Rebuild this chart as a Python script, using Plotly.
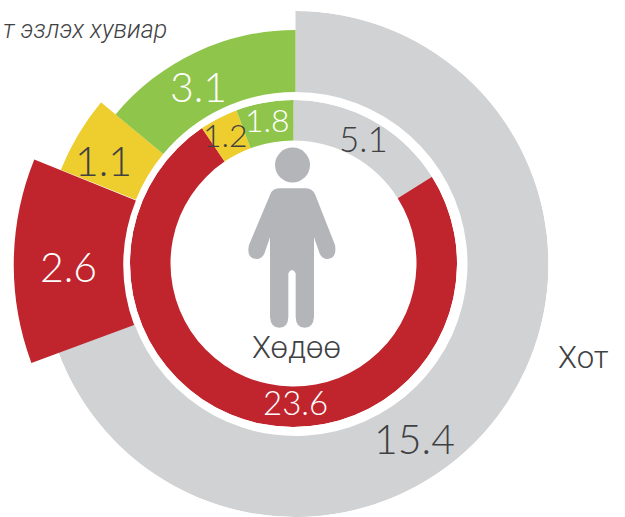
import numpy as np
import plotly.graph_objects as go

W, H = 625, 517

# Data
outer_categories = ["Бусад", "Улаан", "Шар", "Ногоон"]
outer_values = [15.4, 2.6, 1.1, 3.1]
inner_categories = ["Бусад", "Улаан", "Шар", "Ногоон"]
inner_values = [5.1, 23.6, 1.2, 1.8]

# Style
GRAY, RED, YEL, GRN, INK = "#d1d2d4", "#c0252d", "#eecd2f", "#8fc54b", "#404143"
outer_colors = [GRAY, RED, YEL, GRN]
inner_colors = [GRAY, RED, YEL, GRN]
outer_hole = 172
outer_edge = [253, 280, 253, 234]
inner_hole, inner_edge = 123, 163.5
PERSON = "#b4b5b8"
FONT = "Lato"
FONT_TEXT = "Roboto"


def wedges(values):
    v = np.array(values, float)
    ends = np.cumsum(v) / v.sum() * 360
    widths = v / v.sum() * 360
    return ends - widths / 2, widths


def domain(cx, cy, left, right, up, down):
    return dict(x=[(cx - left) / W, (cx + right) / W],
                y=[1 - (cy + down) / H, 1 - (cy - up) / H])


def polar_axes(rmax, **extra):
    return dict(
        bgcolor="rgba(0,0,0,0)",
        radialaxis=dict(visible=False, range=[0, rmax]),
        angularaxis=dict(visible=False, rotation=90, direction="clockwise"),
        **extra,
    )


o_theta, o_width = wedges(outer_values)
i_theta, i_width = wedges(inner_values)

fig = go.Figure()
# grey / yellow / green wedges of the outer ring
for k in (0, 2, 3):
    fig.add_trace(go.Barpolar(
        name=outer_categories[k], subplot="polar",
        r=[outer_edge[k] - outer_hole], base=[outer_hole],
        theta=[o_theta[k]], width=[o_width[k]],
        marker=dict(color=outer_colors[k], line=dict(width=0)),
    ))
# the projecting red wedge lives in its own sector
fig.add_trace(go.Barpolar(
    name=outer_categories[1], subplot="polar2",
    r=[outer_edge[1] - outer_hole], base=[outer_hole],
    theta=[o_theta[1]], width=[o_width[1]],
    marker=dict(color=outer_colors[1], line=dict(width=1.5, color=outer_colors[1])),
))
# inner ring
fig.add_trace(go.Barpolar(
    subplot="polar3", name="Хөдөө",
    r=[inner_edge - inner_hole] * 4, base=[inner_hole] * 4,
    theta=list(i_theta), width=list(i_width),
    marker=dict(color=inner_colors, line=dict(width=0)),
))

R2 = 285
half = np.sin(np.radians(25)) * R2
CX, CY = 295.5, 264
fig.update_layout(
    width=W, height=H, autosize=False, showlegend=False,
    margin=dict(l=0, r=0, t=0, b=0),
    paper_bgcolor="white",
    polar=dict(domain=domain(CX, CY, 253, 253, 253, 253), **polar_axes(253)),
    polar2=dict(domain=domain(CX - 1, CY + 1, R2, 0, half, half),
                **polar_axes(R2, sector=[155, 205])),
    polar3=dict(domain=domain(293.5, 263.5, 163.5, 163.5, 163.5, 163.5),
                **polar_axes(163.5)),
)


def px(x, y):
    return f"{x / W:.5f},{1 - y / H:.5f}"


def z(zx, zy):  # person outline points
    return px(220 + zx / 3, 130 + zy / 3)


body = (
    "M" + z(150, 195) + " Q" + z(156, 175) + " " + z(178, 175)
    + " L" + z(258, 175) + " Q" + z(278, 175) + " " + z(286, 195)
    + " L" + z(345, 345) + " Q" + z(352, 385) + " " + z(322, 387)
    + " Q" + z(304, 387) + " " + z(297, 365)
    + " L" + z(282, 322) + " L" + z(282, 560)
    + " Q" + z(280, 593) + " " + z(254, 593)
    + " Q" + z(228, 593) + " " + z(227, 560)
    + " L" + z(227, 430) + " Q" + z(216, 410) + " " + z(205, 430)
    + " L" + z(205, 560) + " Q" + z(204, 593) + " " + z(178, 593)
    + " Q" + z(152, 593) + " " + z(150, 560)
    + " L" + z(150, 322) + " L" + z(135, 365)
    + " Q" + z(128, 387) + " " + z(110, 387)
    + " Q" + z(78, 385) + " " + z(87, 345) + " Z"
)
fig.add_shape(type="path", path=body, xref="paper", yref="paper",
              fillcolor=PERSON, line=dict(width=0), layer="above")
fig.add_shape(type="circle", xref="paper", yref="paper",
              x0=275 / W, x1=310 / W, y0=1 - 182.5 / H, y1=1 - 147.5 / H,
              fillcolor=PERSON, line=dict(width=0), layer="above")

labels = [
    ("3.1", 198, 87, 41, "white", FONT), ("1.1", 103, 160, 41, INK, FONT),
    ("2.6", 68, 266, 41, "white", FONT), ("15.4", 414, 438, 41, INK, FONT),
    ("5.1", 363, 138, 35, INK, FONT), ("23.6", 295, 402, 33, "white", FONT),
    ("1.2", 225, 134, 32, INK, FONT), ("1.8", 267, 119, 32, "white", FONT),
    ("Хот", 583, 357, 31, INK, FONT_TEXT), ("Хөдөө", 296, 347, 31, INK, FONT_TEXT),
]
for text, x, y, size, col, fam in labels:
    fig.add_annotation(text=text, x=x / W, y=1 - y / H, xref="paper", yref="paper",
                       showarrow=False, xanchor="center", yanchor="middle",
                       font=dict(family=fam, size=size, color=col, weight=300))
fig.add_annotation(text="<i>т эзлэх хувиар</i>", x=169 / W, y=1 - 29 / H,
                   xref="paper", yref="paper", showarrow=False,
                   xanchor="right", yanchor="middle",
                   font=dict(family=FONT_TEXT, size=25, color=INK, weight=300))

fig.write_html("out.html", config=dict(displayModeBar=False),
               post_script="document.body.style.margin='0';")
